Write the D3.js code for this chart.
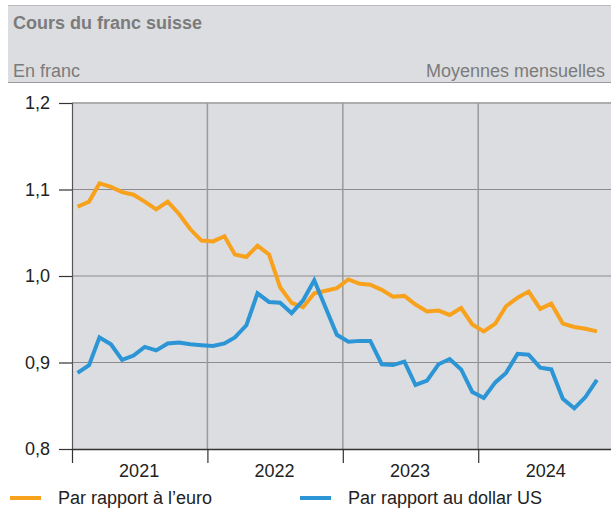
<!DOCTYPE html>
<html><head><meta charset="utf-8">
<script src="https://cdn.jsdelivr.net/npm/d3@7"></script>
<style>
body{margin:0;background:#fff;}
svg{display:block;font-family:"Liberation Sans",Arial,sans-serif;}
</style></head>
<body><svg id="c" width="611" height="513"></svg>
<script>
const title = "Cours du franc suisse";
const unitLabel = "En franc";
const noteLabel = "Moyennes mensuelles";
const years = ["2021","2022","2023","2024"];
const yTicks = [0.8,0.9,1.0,1.1,1.2];
const seriesNames = ["Par rapport à l’euro","Par rapport au dollar US"];
const eurChf = [1.080,1.086,1.107,1.103,1.097,1.094,1.086,1.077,1.086,1.072,1.054,1.041,
                1.040,1.046,1.025,1.022,1.035,1.025,0.987,0.969,0.964,0.980,0.983,0.986,
                0.996,0.991,0.990,0.984,0.976,0.977,0.967,0.959,0.960,0.955,0.963,0.944,
                0.936,0.945,0.965,0.975,0.982,0.962,0.968,0.945,0.941,0.939,0.936];
const usdChf = [0.888,0.897,0.929,0.921,0.903,0.908,0.918,0.914,0.922,0.923,0.921,0.920,
                0.919,0.922,0.929,0.943,0.980,0.970,0.969,0.957,0.972,0.995,0.963,0.932,
                0.924,0.925,0.925,0.898,0.897,0.901,0.874,0.879,0.898,0.904,0.892,0.866,
                0.859,0.877,0.888,0.910,0.909,0.894,0.892,0.858,0.847,0.860,0.880];

const svg = d3.select("#c");
const W = 611;
const pLeft = 72, pTop = 103, pBottom = 449;
const FS = 18;
const x = d3.scaleTime().domain([new Date(2021,0,1), new Date(2025,0,1)]).range([pLeft, pLeft + 4*135.5]);
const y = d3.scaleLinear().domain([0.8,1.2]).range([pBottom, pTop]);
const dates = eurChf.map((_, i) => new Date(2021, i, 16));
const fmt = d3.formatLocale({decimal:",", thousands:"'", grouping:[3], currency:["",""]}).format(".1f");

// header
svg.append("rect").attr("x",8).attr("y",5).attr("width",W-8).attr("height",78).attr("fill","#dcdde0");
svg.append("line").attr("x1",8).attr("x2",W).attr("y1",5.5).attr("y2",5.5).attr("stroke","#b9babd").attr("stroke-width",1);
svg.append("line").attr("x1",8).attr("x2",W).attr("y1",82.5).attr("y2",82.5).attr("stroke","#9b9b9b").attr("stroke-width",1.2);
svg.append("text").attr("x",13).attr("y",29).attr("font-size",FS).attr("font-weight","bold").attr("fill","#7b7b7b").text(title);
svg.append("text").attr("x",13).attr("y",77).attr("font-size",FS).attr("fill","#7b7b7b").text(unitLabel);
svg.append("text").attr("x",605).attr("y",77).attr("text-anchor","end").attr("font-size",FS).attr("fill","#7b7b7b").text(noteLabel);

// plot bg
svg.append("rect").attr("x",pLeft).attr("y",pTop).attr("width",W-pLeft).attr("height",pBottom-pTop).attr("fill","#dcdde0");

// horizontal grid
svg.append("g").selectAll("line").data(yTicks.slice(1,4)).join("line")
  .attr("x1",pLeft).attr("x2",W).attr("y1",d=>y(d)).attr("y2",d=>y(d))
  .attr("stroke","#8c8c8c").attr("stroke-width",1.2);
svg.append("line").attr("x1",pLeft).attr("x2",W).attr("y1",pTop).attr("y2",pTop).attr("stroke","#adadad").attr("stroke-width",2);

// vertical year lines
const yearDates = years.map(s => new Date(+s,0,1));
svg.append("g").selectAll("line").data(yearDates.slice(1)).join("line")
  .attr("x1",d=>x(d)).attr("x2",d=>x(d)).attr("y1",pTop).attr("y2",pBottom)
  .attr("stroke","#9a9a9a").attr("stroke-width",1.5);

// y axis
const yAxis = d3.axisLeft(y).tickValues(yTicks).tickFormat(fmt).tickSize(13).tickPadding(9);
const gy = svg.append("g").attr("transform",`translate(${pLeft},0)`).call(yAxis);
gy.select(".domain").attr("stroke","#555").attr("stroke-width",1.2);
gy.selectAll(".tick line").attr("stroke","#333").attr("stroke-width",1.2);
gy.selectAll("text").attr("font-size",FS).attr("fill","#222").attr("font-family","Liberation Sans, Arial, sans-serif");

// x axis
const xAxis = d3.axisBottom(x).tickValues(yearDates).tickFormat("").tickSize(14).tickSizeOuter(0);
const gx = svg.append("g").attr("transform",`translate(0,${pBottom})`).call(xAxis);
gx.select(".domain").attr("stroke","#333").attr("stroke-width",1.5);
gx.selectAll(".tick line").attr("stroke","#333").attr("stroke-width",1.2);
svg.append("g").selectAll("text").data(years).join("text")
  .attr("x",d=>x(new Date(+d,6,1))).attr("y",477).attr("text-anchor","middle")
  .attr("font-size",FS).attr("fill","#222").text(d=>d);

// lines
const line = d3.line().x((d,i)=>x(dates[i])).y(d=>y(d)).curve(d3.curveLinear);
const colors = ["#f8a11d","#2b95d6"];
svg.append("path").datum(eurChf).attr("d",line).attr("fill","none").attr("stroke",colors[0]).attr("stroke-width",4).attr("stroke-linejoin","miter");
svg.append("path").datum(usdChf).attr("d",line).attr("fill","none").attr("stroke",colors[1]).attr("stroke-width",4).attr("stroke-linejoin","miter");

// legend
const leg = [{x:10,tx:58},{x:300,tx:348}];
seriesNames.forEach((n,i)=>{
  svg.append("line").attr("x1",leg[i].x).attr("x2",leg[i].x+31).attr("y1",498).attr("y2",498).attr("stroke",colors[i]).attr("stroke-width",4);
  svg.append("text").attr("x",leg[i].tx).attr("y",504).attr("font-size",FS).attr("fill","#222").text(n);
});
</script></body></html>
